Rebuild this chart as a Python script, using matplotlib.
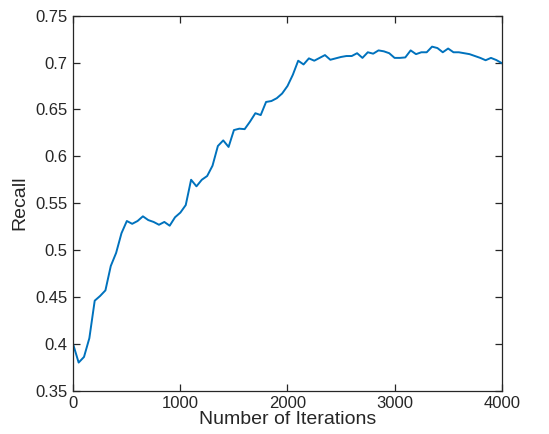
import matplotlib
matplotlib.use("Agg")
from matplotlib import pyplot as plt

# recall mesurée toutes les 50 itérations
iterations = list(range(0, 4001, 50))
recall = [
    0.399, 0.380, 0.386, 0.406, 0.446, 0.451, 0.457, 0.483, 0.497, 0.518,
    0.531, 0.528, 0.531, 0.536, 0.532, 0.530, 0.527, 0.530, 0.526, 0.535,
    0.540, 0.548, 0.575, 0.568, 0.575, 0.579, 0.590, 0.611, 0.617, 0.610,
    0.628, 0.6295, 0.629, 0.637, 0.646, 0.644, 0.658, 0.659, 0.662, 0.667,
    0.675, 0.687, 0.702, 0.698, 0.7045, 0.702, 0.705, 0.708, 0.703, 0.7045,
    0.706, 0.707, 0.707, 0.710, 0.705, 0.711, 0.7095, 0.713, 0.712, 0.710,
    0.705, 0.705, 0.7055, 0.713, 0.709, 0.711, 0.711, 0.717, 0.7155, 0.711,
    0.715, 0.711, 0.711, 0.710, 0.709, 0.707, 0.705, 0.7025, 0.705, 0.7027,
    0.6995,
]

x_ticks = [0, 1000, 2000, 3000, 4000]
y_ticks = [0.35, 0.4, 0.45, 0.5, 0.55, 0.6, 0.65, 0.7, 0.75]
y_labels = ["0.35", "0.4", "0.45", "0.5", "0.55", "0.6", "0.65", "0.7", "0.75"]

plt.rcParams["font.family"] = ["Liberation Sans", "DejaVu Sans"]

fig = plt.figure(figsize=(5.49, 4.34), dpi=100)
ax = fig.add_axes([0.1335, 0.0998, 0.7803, 0.864])

ax.plot(iterations, recall, color=(0, 0.447, 0.741), linewidth=1.4)

ax.set_xlim(0, 4000)
ax.set_ylim(0.35, 0.75)
ax.set_xticks(x_ticks)
ax.set_yticks(y_ticks)
ax.set_yticklabels(y_labels)
ax.tick_params(direction="in", length=5, width=0.9, top=True, right=True,
               labelsize=12, colors="#262626", pad=4)
for s in ax.spines.values():
    s.set_linewidth(0.9)
    s.set_color("#262626")

ax.set_xlabel("Number of Iterations", fontsize=14, color="#262626", labelpad=0)
ax.set_ylabel("Recall", fontsize=14, color="#262626", labelpad=5)

fig.savefig("out.png", dpi=100)
